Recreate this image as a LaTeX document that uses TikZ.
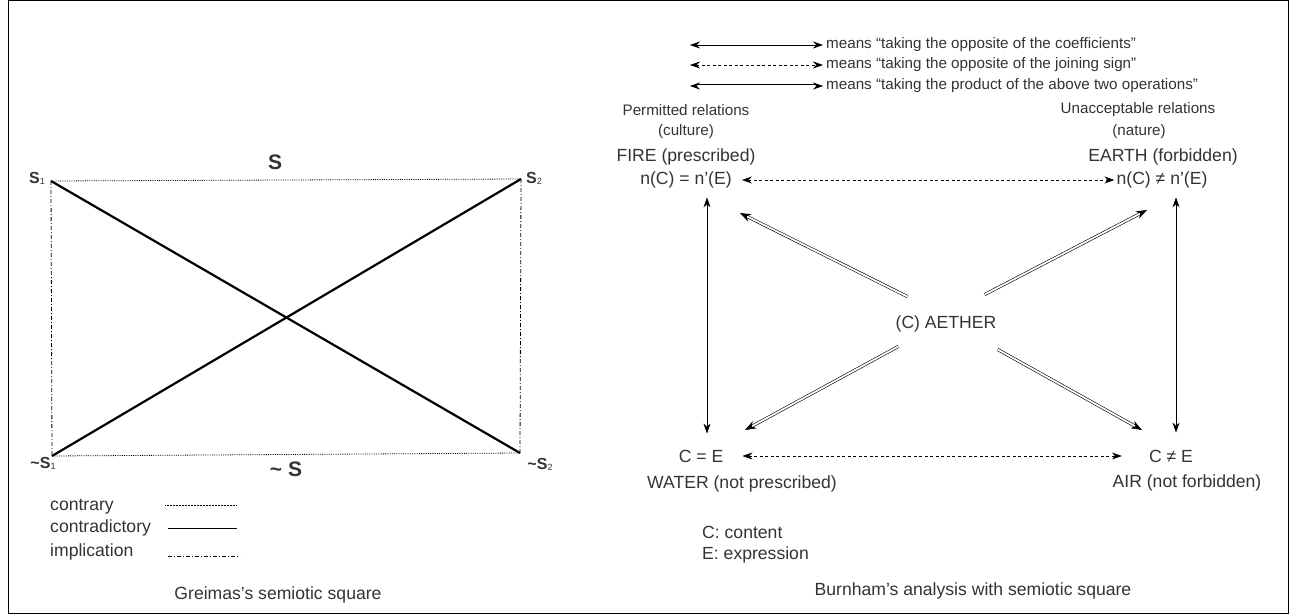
\documentclass[tikz,border=0pt]{standalone}
\usepackage{fontspec}
\setmainfont{Liberation Sans}
\usetikzlibrary{arrows.meta}
\definecolor{ink}{HTML}{333333}
\begin{document}
\begin{tikzpicture}[x=1pt,y=-1pt,
  txt/.style={text=ink,font=\fontsize{17.6}{20}\selectfont,inner sep=0pt},
  small/.style={text=ink,font=\fontsize{15.2}{18}\selectfont,inner sep=0pt},
  corner/.style={text=ink,font=\fontsize{16}{18}\selectfont\bfseries,inner sep=0pt},
  big/.style={text=ink,font=\fontsize{21}{24}\selectfont\bfseries,inner sep=0pt},
  contrary/.style={densely dotted,line width=0.8pt},
  contradictory/.style={line width=2.2pt},
  implication/.style={dash pattern=on 4pt off 2pt on 1pt off 2pt,line width=0.8pt},
  tips/.style={{Stealth[length=10pt,width=7pt]}-{Stealth[length=10pt,width=7pt]}},
  tipend/.style={-{Stealth[length=11pt,width=8pt]}},
  dashline/.style={dash pattern=on 3pt off 2.5pt,line width=0.7pt},
  dbl/.style={double,double distance=1.8pt,line width=0.6pt}]
\useasboundingbox (0,0) rectangle (1290,615);
\draw[line width=1pt] (8,1) rectangle (1288,613);
\coordinate (s1) at (51,181);
\coordinate (s2) at (521,179);
\coordinate (ns1) at (52,456);
\coordinate (ns2) at (520,453);
\draw[contrary] (s1) -- (s2);
\draw[contrary] (ns1) -- (ns2);
\draw[implication] (s1) -- (ns1);
\draw[implication] (s2) -- (ns2);
\draw[contradictory] (s1) -- (ns2);
\draw[contradictory] (s2) -- (ns1);
\node[corner,anchor=east] (ls1) at (45,178) {S\raisebox{-1pt}{\fontsize{9}{9}\selectfont\mdseries 1}};
\node[corner,anchor=west] (ls2) at (526,178) {S\raisebox{-1pt}{\fontsize{9}{9}\selectfont\mdseries 2}};
\node[corner] (lns1) at (43,463) {\char`~S\raisebox{-1pt}{\fontsize{9}{9}\selectfont\mdseries 1}};
\node[corner] (lns2) at (540,464) {\char`~S\raisebox{-1pt}{\fontsize{9}{9}\selectfont\mdseries 2}};
\node[big] (ls) at (275,162) {S};
\node[big] (lns) at (286,469) {\char`~\ S};
\node[txt,anchor=west] (lcontrary) at (50,507) {contrary};
\node[txt,anchor=west] (lcontra) at (50,528) {contradictory};
\node[txt,anchor=west] (limpl) at (50,552) {implication};
\draw[densely dotted,line width=0.5pt] (165,505) -- (237,505);
\draw[line width=0.5pt] (168,528) -- (237,528);
\draw[implication,line width=0.6pt] (168,556) -- (240,556);
\node[txt] (greimas) at (278,595) {Greimas's semiotic square};
\node[small,anchor=west] (m1) at (826,45) {means “taking the opposite of the coefficients”};
\node[small,anchor=west] (m2) at (826,65) {means “taking the opposite of the joining sign”};
\node[small,anchor=west] (m3) at (826,86) {means “taking the product of the above two operations”};
\coordinate (k1) at (690,45);
\coordinate (k2) at (690,65);
\coordinate (k3) at (690,86);
\draw[tips,line width=0.6pt] (k1) -- ([xshift=-3pt]m1.west);
\draw[tips,dashline] (k2) -- ([xshift=-3pt]m2.west);
\draw[tips,dbl] (k3) -- ([xshift=-3pt]m3.west);
\node[small] (perm) at (686,110) {Permitted relations};
\node[small] (cult) at (686,132) {(culture)};
\node[txt] (fire) at (686,157) {FIRE (prescribed)};
\node[txt] (nfire) at (686,180) {n(C) = n’(E)};
\node[small] (unacc) at (1138,110) {Unacceptable relations};
\node[small] (nat) at (1139,132) {(nature)};
\node[txt] (earth) at (1163,157) {EARTH (forbidden)};
\node[txt] (nearth) at (1162,180) {n(C) ≠ n’(E)};
\node[txt] (ceqe) at (701,456) {C = E};
\node[txt] (water) at (742,484) {WATER (not prescribed)};
\node[txt] (cnee) at (1171,456) {C ≠ E};
\node[txt] (air) at (1187,483) {AIR (not forbidden)};
\node[txt] (aether) at (946,324) {(C) AETHER};
\node[txt,anchor=west] (cont) at (702,532) {C: content};
\node[txt,anchor=west] (expr) at (702,555) {E: expression};
\node[txt] (burnham) at (973,591) {Burnham's analysis with semiotic square};
\draw[tips,dashline] ([xshift=10pt]nfire.east) -- ([xshift=-2pt]nearth.west);
\draw[tips,dashline] ([xshift=19pt]ceqe.east) -- ([xshift=-27pt]cnee.west);
\draw[tips,line width=0.7pt] ([xshift=21pt,yshift=-9pt]nfire.south) -- ([xshift=6pt,yshift=16pt]ceqe.north);
\draw[tips,line width=0.7pt] ([xshift=14pt,yshift=-9pt]nearth.south) -- ([xshift=5pt,yshift=17pt]cnee.north);
\coordinate (tl) at (740,213);
\coordinate (tr) at (1147,210);
\coordinate (bl) at (745,430);
\coordinate (br) at (1142,430);
\draw[dbl,tipend] ([shift={(12pt,19pt)}]aether.north west) -- (tl);
\draw[dbl,tipend] ([shift={(-12pt,21pt)}]aether.north east) -- (tr);
\draw[dbl,tipend] ([shift={(3pt,-14pt)}]aether.south west) -- (bl);
\draw[dbl,tipend] ([shift={(1pt,-17pt)}]aether.south east) -- (br);
\end{tikzpicture}
\end{document}
